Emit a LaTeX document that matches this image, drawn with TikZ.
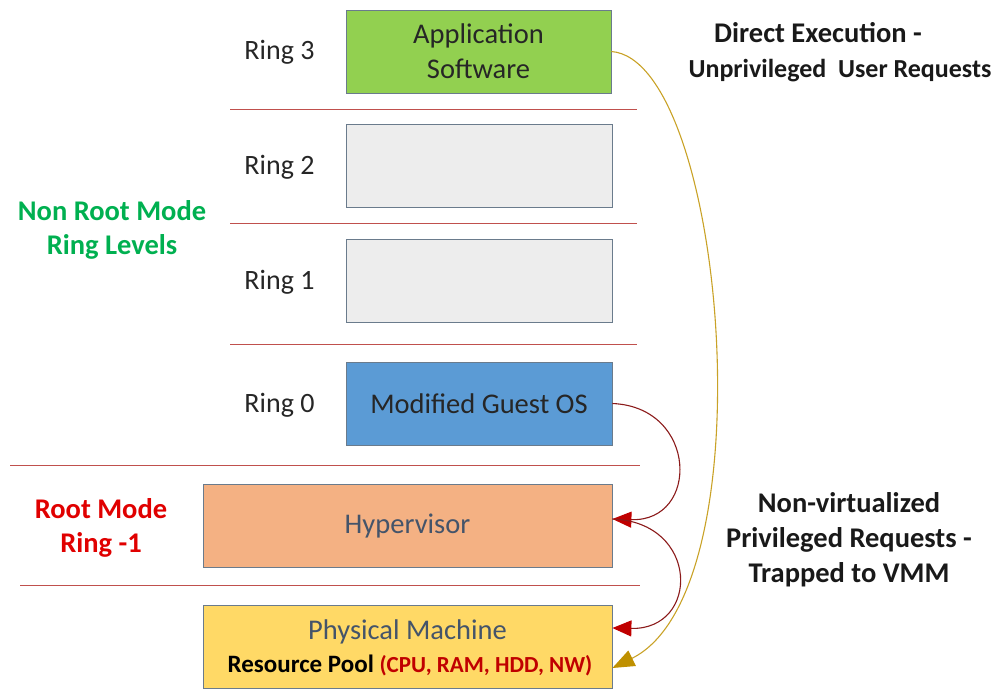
\documentclass[tikz,border=0pt]{standalone}
\usepackage{fontspec}
\setmainfont{Carlito}
\usetikzlibrary{arrows.meta}
\definecolor{appgreen}{HTML}{92D050}
\definecolor{ringgray}{HTML}{EDEDED}
\definecolor{osblue}{HTML}{5B9BD5}
\definecolor{hvorange}{HTML}{F4B183}
\definecolor{pmyellow}{HTML}{FFD966}
\definecolor{boxedge}{HTML}{6A7B8C}
\definecolor{slate}{HTML}{44546A}
\definecolor{sepred}{HTML}{C0504D}
\definecolor{darkred}{HTML}{8B1A1A}
\definecolor{tipred}{HTML}{C00000}
\definecolor{goldline}{HTML}{C9A227}
\definecolor{goldtip}{HTML}{BF9000}
\definecolor{modegreen}{HTML}{00B050}
\definecolor{modered}{HTML}{E00000}
\tikzset{
  layer/.style={draw=boxedge, line width=0.8pt, minimum height=83pt, inner sep=0pt, align=center, font=\fontsize{28.5}{35}\selectfont},
  sep/.style={draw=sepred, line width=1pt},
  ringlbl/.style={font=\fontsize{28}{30}\selectfont, text=black!85},
  modelbl/.style={font=\fontsize{28.5}{34}\selectfont\bfseries, align=center},
  notelbl/.style={font=\fontsize{28.5}{35}\selectfont\bfseries, align=center, text=black!90},
  trap/.style={draw=darkred, line width=1.1pt, -{Triangle[length=19pt,width=16pt,color=tipred]}},
  direct/.style={draw=goldline, line width=1.1pt, -{Triangle[length=22pt,width=17pt,color=goldtip]}}
}
\begin{document}
\begin{tikzpicture}[x=1pt,y=-1pt]
\useasboundingbox (0,0) rectangle (993,691);
% separators between ring levels
\draw[sep] (230,109) -- (637,109);
\draw[sep] (230,223) -- (637,223);
\draw[sep] (230,344) -- (637,344);
\draw[sep] (10,465) -- (640,465);
\draw[sep] (20,585) -- (640,585);
% layers
\node[layer, fill=appgreen, minimum width=265pt, text=black!85] (app) at (478.5,51.5) {Application\\Software};
\node[layer, fill=ringgray, minimum width=266pt] (r2) at (479,166) {};
\node[layer, fill=ringgray, minimum width=266pt] (r1) at (479,281) {};
\node[layer, fill=osblue, minimum width=266pt, text=black!85] (os) at (479,403.5) {Modified Guest OS};
\node[layer, fill=hvorange, minimum width=409pt, text=slate] (hv) at (407.5,525.5) {Hypervisor};
\node[layer, fill=pmyellow, minimum width=409pt] (pm) at (407.5,647) {};
\node[font=\fontsize{28.5}{30}\selectfont, text=slate] (pmt) at (407.5,632) {Physical Machine};
\node[font=\fontsize{25}{28}\selectfont\bfseries] (pool) at (410,665) {Resource Pool {\fontsize{23}{25}\selectfont\color{tipred}(CPU, RAM, HDD, NW)}};
% ring labels
\node[ringlbl] (l3) at (279.5,52) {Ring 3};
\node[ringlbl] (l2) at (279.5,167) {Ring 2};
\node[ringlbl] (l1) at (279.5,282) {Ring 1};
\node[ringlbl] (l0) at (279.5,405) {Ring 0};
% mode labels
\node[modelbl, text=modegreen] (nonroot) at (112,230) {Non Root Mode\\Ring Levels};
\node[modelbl, text=modered] (root) at (101,528) {Root Mode\\Ring -1};
% notes
\node[notelbl] (direct) at (840,52) {Direct Execution -\hspace*{44pt}\\{\fontsize{26}{35}\selectfont Unprivileged\ \ User Requests}};
\node[notelbl] (trapnote) at (849,540) {Non-virtualized\\Privileged Requests -\\Trapped to VMM};
% request paths
\draw[direct] (app.east) .. controls (725,60) and (770,590) .. ([yshift=-21pt]pm.east);
\draw[trap] (os.east) .. controls (698,407) and (700,522) .. ([yshift=6.5pt]hv.east);
\draw[trap] ([yshift=6.5pt]hv.east) .. controls (700,522) and (700,630) .. ([yshift=19pt]pm.east);
\end{tikzpicture}
\end{document}
